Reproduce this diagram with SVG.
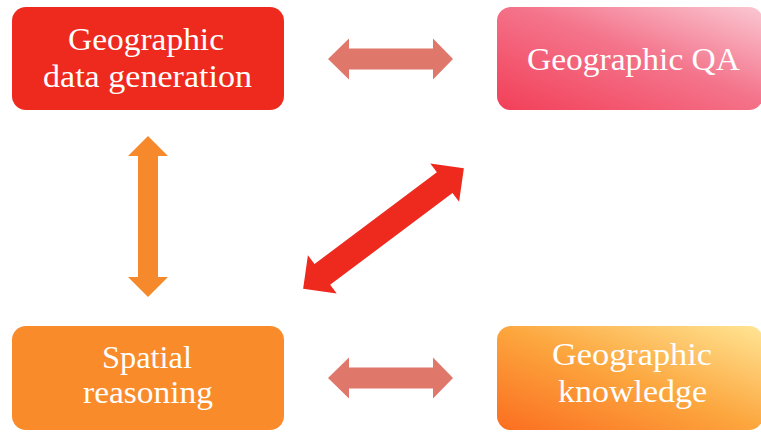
<svg xmlns="http://www.w3.org/2000/svg" width="761" height="432" viewBox="0 0 761 432">
<defs>
<linearGradient id="gQA" x1="0" y1="1" x2="1" y2="0">
<stop offset="0" stop-color="#F23F58"/>
<stop offset="0.55" stop-color="#F4758C"/>
<stop offset="1" stop-color="#FAC8D3"/>
</linearGradient>
<linearGradient id="gKn" x1="0" y1="1" x2="1" y2="0">
<stop offset="0" stop-color="#FB6E20"/>
<stop offset="0.5" stop-color="#FCA63E"/>
<stop offset="1" stop-color="#FFE594"/>
</linearGradient>
<style>
.t{font-family:"Liberation Serif","Times New Roman",serif;font-size:32px;fill:#FFFFFF;text-anchor:middle}
</style>
</defs>
<rect width="761" height="432" fill="#FFFFFF"/>
<g id="connectors">
<polygon points="328,59 349,38.5 349,48.5 433,48.5 433,38.5 453,59 433,79.5 433,69.5 349,69.5 349,79.5" fill="#E0776B"/>
<polygon points="328,378 349,357.5 349,367.5 433,367.5 433,357.5 453,378 433,398.5 433,388.5 349,388.5 349,398.5" fill="#E0776B"/>
<polygon points="148,136 168,156 158,156 158,277 168,277 148,297 128,277 138,277 138,156 128,156" fill="#F5892C"/>
<polygon transform="translate(383.5,228.5) rotate(-36.9)" points="-100.5,0 -76.5,-24 -76.5,-13 76.5,-13 76.5,-24 100.5,0 76.5,24 76.5,13 -76.5,13 -76.5,24" fill="#EE2A1E"/>
</g>
<g id="node-data-generation">
<rect x="12" y="7" width="272" height="103" rx="14" fill="#EE2A1E"/>
<text class="t" x="146" y="50" textLength="156" lengthAdjust="spacingAndGlyphs">Geographic</text>
<text class="t" x="147.5" y="87" textLength="209" lengthAdjust="spacingAndGlyphs">data generation</text>
</g>
<g id="node-qa">
<rect x="497" y="7" width="266" height="103" rx="14" fill="url(#gQA)"/>
<text class="t" x="633.5" y="70" textLength="213" lengthAdjust="spacingAndGlyphs">Geographic QA</text>
</g>
<g id="node-spatial">
<rect x="12" y="326" width="272" height="104" rx="14" fill="#F98B2B"/>
<text class="t" x="147" y="368" textLength="90" lengthAdjust="spacingAndGlyphs">Spatial</text>
<text class="t" x="148" y="403" textLength="130" lengthAdjust="spacingAndGlyphs">reasoning</text>
</g>
<g id="node-knowledge">
<rect x="497" y="326" width="266" height="104" rx="14" fill="url(#gKn)"/>
<text class="t" x="632" y="365" textLength="160" lengthAdjust="spacingAndGlyphs">Geographic</text>
<text class="t" x="632.5" y="402" textLength="149" lengthAdjust="spacingAndGlyphs">knowledge</text>
</g>
</svg>
